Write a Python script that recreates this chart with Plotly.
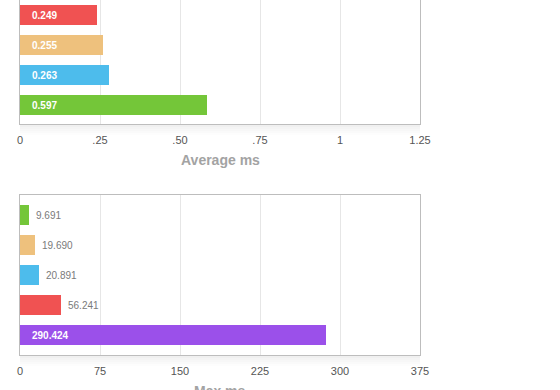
import plotly.graph_objects as go

# ---------------- data ----------------
avg_names = ["Lib A", "Lib B", "Lib C", "Lib D"]
avg_values = [0.2406, 0.2584, 0.278, 0.584]
avg_labels = ["0.249", "0.255", "0.263", "0.597"]
avg_colors = ["#f05252", "#eec17d", "#4dbcec", "#74c639"]
avg_ticks = [0, 0.25, 0.5, 0.75, 1, 1.25]
avg_ticktext = ["0", ".25", ".50", ".75", "1", "1.25"]

max_names = ["Lib D", "Lib B", "Lib C", "Lib A", "Lib E"]
max_values = [8.16, 13.8, 17.8, 38.7, 286.6]
max_labels = ["9.691", "19.690", "20.891", "56.241", "290.424"]
max_colors = ["#74c639", "#eec17d", "#4dbcec", "#f05252", "#9b50ea"]
max_ticks = [0, 75, 150, 225, 300, 375]
max_ticktext = ["0", "75", "150", "225", "300", "375"]

# ---------------- layout helpers ----------------
W, H = 560, 390
PX_L, PX_R = 20, 420
TOP_Y0, TOP_Y1 = 0, 124       # pixel top/bottom of first plot area
BOT_Y0, BOT_Y1 = 195, 355     # pixel top/bottom of second plot area
SLOT = 30.0
FONT = "Helvetica Neue, Helvetica, Arial, Liberation Sans, sans-serif"


def py(p):
    return 1 - p / H


fig = go.Figure()

fig.add_trace(go.Bar(
    x=avg_values, y=list(range(len(avg_values))), orientation="h",
    marker=dict(color=avg_colors, line=dict(width=0)), width=20 / SLOT,
    xaxis="x", yaxis="y", hoverinfo="skip", showlegend=False))
fig.add_trace(go.Bar(
    x=max_values, y=list(range(len(max_values))), orientation="h",
    marker=dict(color=max_colors, line=dict(width=0)), width=20 / SLOT,
    xaxis="x2", yaxis="y2", hoverinfo="skip", showlegend=False))

annotations = []


def add_labels(values, labels, xref, yref, xmax):
    scale = (PX_R - PX_L) / xmax
    for i, (v, t) in enumerate(zip(values, labels)):
        inside = v * scale > 45
        if inside:
            annotations.append(dict(
                x=0, y=i, xref=xref, yref=yref, text=t, showarrow=False,
                xanchor="left", yanchor="middle", xshift=10,
                font=dict(family=FONT, size=10, color="white", weight="bold")))
        else:
            annotations.append(dict(
                x=v, y=i, xref=xref, yref=yref, text=t, showarrow=False,
                xanchor="left", yanchor="middle", xshift=5,
                font=dict(family=FONT, size=10, color="#7a7a7a")))


add_labels(avg_values, avg_labels, "x", "y", 1.25)
add_labels(max_values, max_labels, "x2", "y2", 375)

# axis titles
annotations.append(dict(x=(PX_L + PX_R) / 2 / W, y=py(160), xref="paper", yref="paper",
                        text="Average ms", showarrow=False, xanchor="center", yanchor="middle",
                        font=dict(family=FONT, size=14, color="#a3a3a3", weight="bold")))
annotations.append(dict(x=(PX_L + PX_R) / 2 / W, y=py(391), xref="paper", yref="paper",
                        text="Max ms", showarrow=False, xanchor="center", yanchor="middle",
                        font=dict(family=FONT, size=14, color="#a3a3a3", weight="bold")))

# soft shadow beneath each plot area
shapes = []
for base in (TOP_Y1, BOT_Y1):
    for k, a in enumerate([0.06, 0.045, 0.03, 0.018, 0.008]):
        shapes.append(dict(type="rect", xref="paper", yref="paper",
                           x0=PX_L / W, x1=PX_R / W,
                           y0=py(base + 1 + 2 * (k + 1)), y1=py(base + 1 + 2 * k),
                           fillcolor=f"rgba(0,0,0,{a})", line=dict(width=0), layer="below"))

xdom = [PX_L / W, PX_R / W]
axis_common = dict(showgrid=True, gridcolor="#e6e6e6", gridwidth=1, zeroline=False,
                   showline=True, linecolor="#bdbdbd", linewidth=1, ticks="",
                   tickfont=dict(family=FONT, size=11, color="#555555", weight=500),
                   ticklabelstandoff=6, fixedrange=True, automargin=False)
yaxis_common = dict(showgrid=False, zeroline=False, showticklabels=False, ticks="",
                    showline=True, linecolor="#bdbdbd", linewidth=1, mirror=True,
                    fixedrange=True, automargin=False)

top_h = (TOP_Y1 - TOP_Y0) / SLOT
bot_h = (BOT_Y1 - BOT_Y0) / SLOT
top_first = -0.5
bot_first = -20 / SLOT

fig.update_layout(
    width=W, height=H,
    autosize=False,
    margin=dict(l=0, r=0, t=0, b=0, pad=0, autoexpand=False),
    paper_bgcolor="white", plot_bgcolor="white",
    bargap=0,
    xaxis=dict(domain=xdom, anchor="y", range=[0, 1.25], tickvals=avg_ticks,
               ticktext=avg_ticktext, mirror=False, **axis_common),
    yaxis=dict(domain=[py(TOP_Y1), py(TOP_Y0)], anchor="x",
               range=[top_first + top_h, top_first], **yaxis_common),
    xaxis2=dict(domain=xdom, anchor="y2", range=[0, 375], tickvals=max_ticks,
                ticktext=max_ticktext, mirror=True, **axis_common),
    yaxis2=dict(domain=[py(BOT_Y1), py(BOT_Y0)], anchor="x2",
                range=[bot_first + bot_h, bot_first], **yaxis_common),
    annotations=annotations,
    shapes=shapes,
)

fig.write_html(
    "out.html",
    config={"displayModeBar": False, "responsive": False},
    post_script="document.body.style.margin='0';document.body.style.overflow='hidden';",
)
